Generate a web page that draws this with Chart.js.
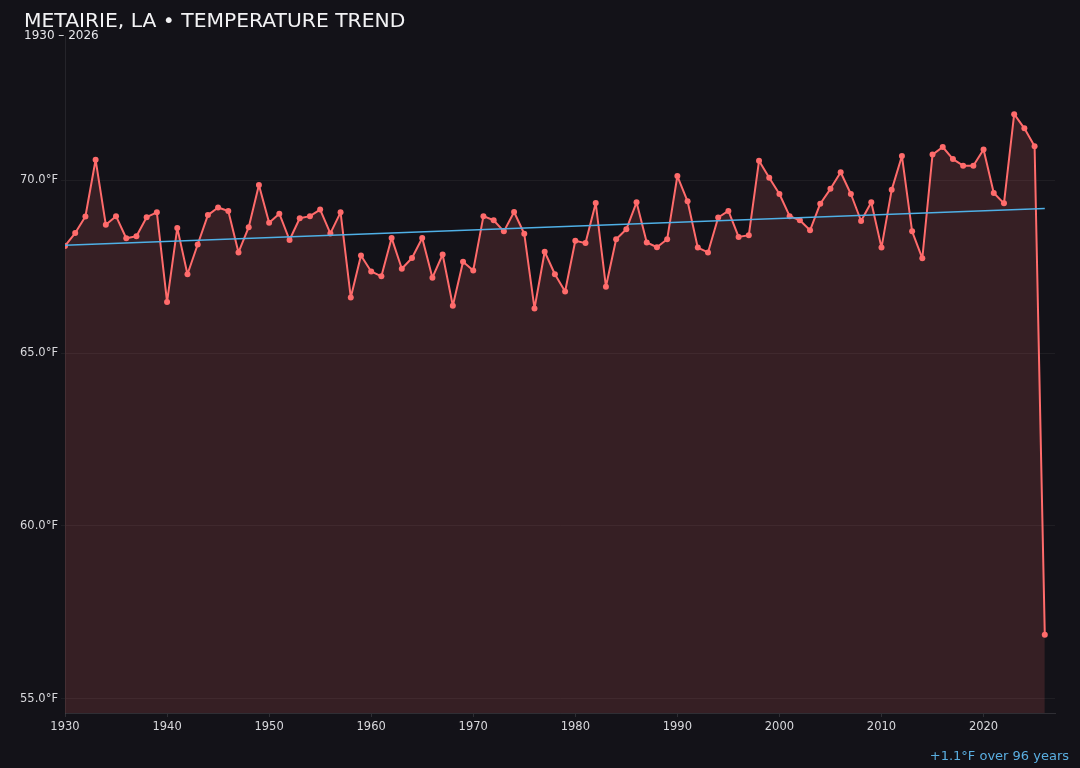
<!DOCTYPE html>
<html>
<head>
<meta charset="utf-8">
<title>Metairie, LA temperature trend</title>
<script src="https://cdn.jsdelivr.net/npm/chart.js@4"></script>
<style>
    html, body { margin: 0; padding: 0; background: #131218; }
    #wrap { position: relative; width: 1080px; height: 768px; font-family: "DejaVu Sans", sans-serif; }
    #title { position: absolute; left: 24px; top: 8px; font-size: 20.3px; color: #f2f2f4; white-space: nowrap; }
    #subtitle { position: absolute; left: 24px; top: 28px; font-size: 12px; color: #e6e6ea; white-space: nowrap; }
    #note { position: absolute; right: 11px; top: 748px; font-size: 13px; color: #5aaee0; white-space: nowrap; }
</style>
</head>
<body>
<div id="wrap">
    <canvas id="trendChart" width="1080" height="768"></canvas>
    <div id="title">METAIRIE, LA • TEMPERATURE TREND</div>
    <div id="subtitle">1930 – 2026</div>
    <div id="note">+1.1°F over 96 years</div>
</div>
<script>
(function () {
    "use strict";

    // annual mean temperature, °F
    var years = [
        1930, 1931, 1932, 1933, 1934, 1935, 1936, 1937, 1938, 1939,
        1940, 1941, 1942, 1943, 1944, 1945, 1946, 1947, 1948, 1949,
        1950, 1951, 1952, 1953, 1954, 1955, 1956, 1957, 1958, 1959,
        1960, 1961, 1962, 1963, 1964, 1965, 1966, 1967, 1968, 1969,
        1970, 1971, 1972, 1973, 1974, 1975, 1976, 1977, 1978, 1979,
        1980, 1981, 1982, 1983, 1984, 1985, 1986, 1987, 1988, 1989,
        1990, 1991, 1992, 1993, 1994, 1995, 1996, 1997, 1998, 1999,
        2000, 2001, 2002, 2003, 2004, 2005, 2006, 2007, 2008, 2009,
        2010, 2011, 2012, 2013, 2014, 2015, 2016, 2017, 2018, 2019,
        2020, 2021, 2022, 2023, 2024, 2025, 2026
    ];
    var temps = [
        68.10, 68.47, 68.95, 70.59, 68.71, 68.96, 68.32, 68.38, 68.93, 69.07,
        66.48, 68.62, 67.28, 68.14, 68.99, 69.21, 69.11, 67.91, 68.64, 69.86,
        68.77, 69.03, 68.27, 68.90, 68.96, 69.15, 68.46, 69.07, 66.61, 67.82,
        67.36, 67.22, 68.33, 67.44, 67.75, 68.33, 67.18, 67.85, 66.37, 67.64,
        67.39, 68.96, 68.84, 68.52, 69.08, 68.45, 66.29, 67.93, 67.28, 66.78,
        68.25, 68.18, 69.34, 66.92, 68.29, 68.58, 69.36, 68.20, 68.06, 68.29,
        70.12, 69.39, 68.05, 67.91, 68.92, 69.11, 68.36, 68.41, 70.56, 70.07,
        69.60, 68.96, 68.84, 68.55, 69.32, 69.75, 70.23, 69.60, 68.82, 69.36,
        68.05, 69.72, 70.70, 68.52, 67.74, 70.74, 70.96, 70.61, 70.42, 70.42,
        70.89, 69.63, 69.33, 71.91, 71.50, 70.98, 56.85
    ];
    // linear trend end points
    var trendYears = [1930, 2026];
    var trendTemps = [68.12, 69.18];

    var yTicks = [55, 60, 65, 70];
    var xTicks = [1930, 1940, 1950, 1960, 1970, 1980, 1990, 2000, 2010, 2020];

    function points(xs, ys) {
        return xs.map(function (x, i) { return { x: x, y: ys[i] }; });
    }

    var tickFont = { family: "DejaVu Sans", size: 11.5 };

    new Chart(document.getElementById('trendChart'), {
        type: 'line',
        data: {
            datasets: [
                {
                    label: 'Trend',
                    data: points(trendYears, trendTemps),
                    borderColor: '#4fb0e6',
                    borderWidth: 1.5,
                    pointRadius: 0,
                    fill: false,
                    order: 0
                },
                {
                    label: 'Annual mean',
                    data: points(years, temps),
                    borderColor: '#ff6b6b',
                    backgroundColor: 'rgba(255,107,107,0.15)',
                    pointBackgroundColor: '#ff6b6b',
                    pointBorderColor: '#ff6b6b',
                    pointRadius: 3,
                    pointBorderWidth: 0,
                    borderWidth: 2,
                    borderJoinStyle: 'round',
                    tension: 0,
                    fill: 'start',
                    order: 1
                }
            ]
        },
        options: {
            responsive: false,
            animation: false,
            layout: { padding: { top: 36, right: 25, left: 0, bottom: 0 } },
            scales: {
                x: {
                    type: 'linear',
                    min: 1930,
                    max: 2027,
                    afterBuildTicks: function (axis) {
                        axis.ticks = xTicks.map(function (v) { return { value: v }; });
                    },
                    afterFit: function (axis) { axis.height = 55; },
                    grid: { drawOnChartArea: false, tickLength: 4, color: 'rgba(255,255,255,0.12)' },
                    border: { color: 'rgba(255,255,255,0.12)' },
                    ticks: {
                        color: '#d8d8dc',
                        font: tickFont,
                        padding: 3,
                        maxRotation: 0,
                        callback: function (v) { return String(v); }
                    }
                },
                y: {
                    min: 54.59,
                    max: 74.17,
                    afterBuildTicks: function (axis) {
                        axis.ticks = yTicks.map(function (v) { return { value: v }; });
                    },
                    afterFit: function (axis) { axis.width = 65; },
                    grid: { color: 'rgba(255,255,255,0.05)', tickLength: 4 },
                    border: { color: 'rgba(255,255,255,0.08)' },
                    ticks: {
                        color: '#d8d8dc',
                        font: tickFont,
                        padding: 3,
                        callback: function (v) { return v.toFixed(1) + '°F'; }
                    }
                }
            },
            plugins: {
                legend: { display: false },
                tooltip: { enabled: false }
            }
        }
    });
})();
</script>
</body>
</html>
